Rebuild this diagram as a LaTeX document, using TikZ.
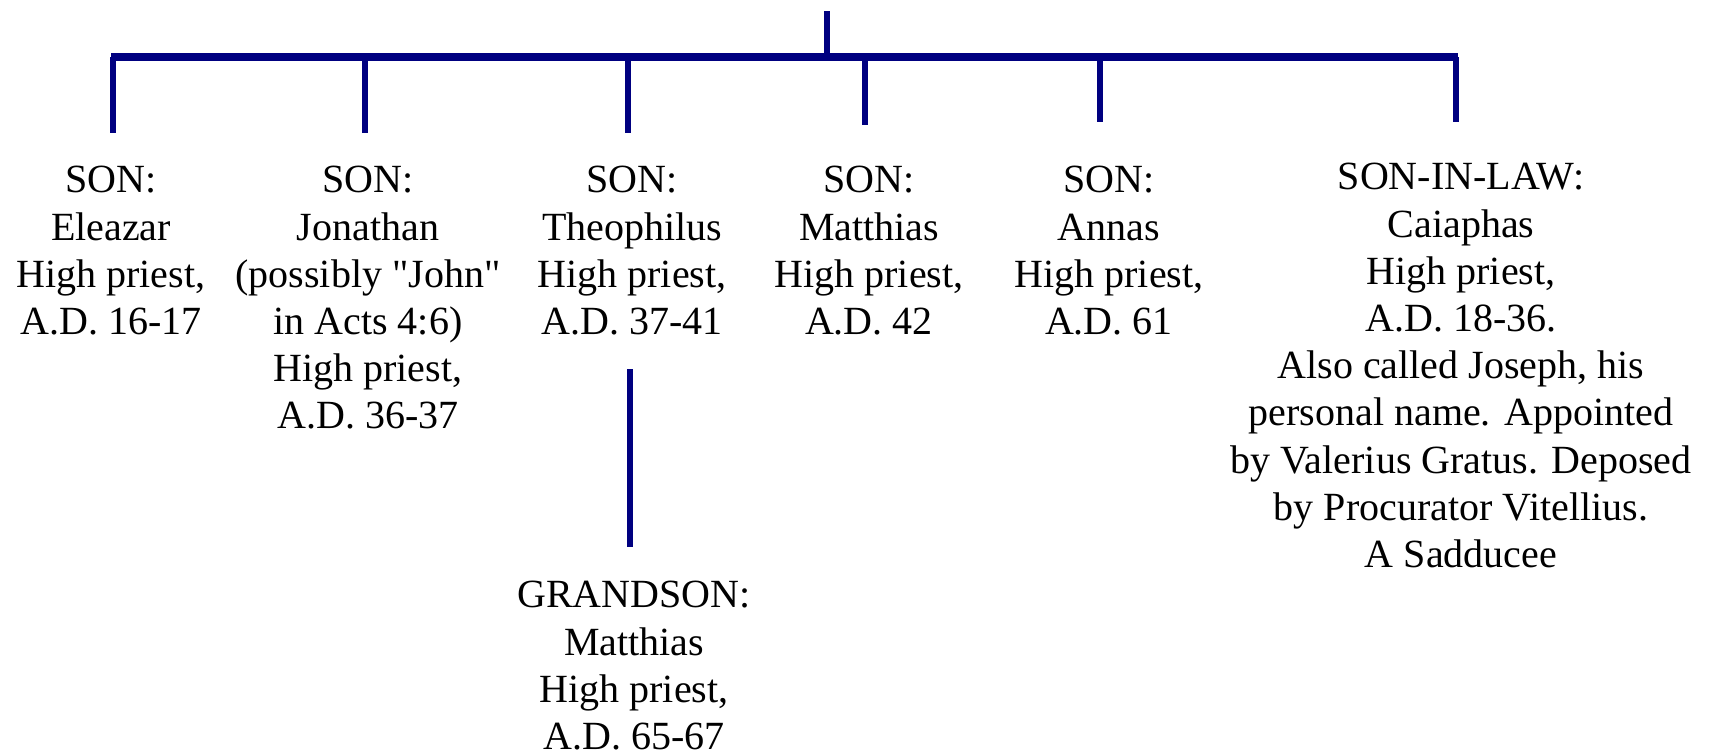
\documentclass[tikz,border=0pt]{standalone}
\usepackage{fontspec}
\setmainfont{Liberation Serif}[Ligatures=TeXOff]
\definecolor{linecolor}{RGB}{0,0,128}

\begin{document}
\begin{tikzpicture}[x=0.5pt, y=-0.5pt,
                    person/.style={anchor=north, align=center, inner sep=0pt,
                    font=\fontsize{20}{23.6}\selectfont},
                    bar/.style={draw=linecolor, line width=4pt},
                    drop/.style={draw=linecolor, line width=2.9pt}]
    \useasboundingbox (0,0) rectangle (1710,755);
    \coordinate (top) at (827,11);
    \coordinate (fork) at (827,57);
    \coordinate (left) at (111,57);
    \coordinate (right) at (1458,57);
    \coordinate (d1) at (113,133);
    \coordinate (d2) at (365,133);
    \coordinate (d3) at (628,133);
    \coordinate (d4) at (865,125);
    \coordinate (d5) at (1100,122);
    \coordinate (d6) at (1456,122);
    \coordinate (gtop) at (630,369);
    \coordinate (gbot) at (630,547);

    \node [person] (eleazar) at (111,166) {SON:\\Eleazar\\High priest,\\A.D. 16-17};
    \node [person] (jonathan) at (368,166) {SON:\\Jonathan\\(possibly "John"\\in Acts 4:6)\\High priest,\\A.D. 36-37};
    \node [person] (theophilus) at (632,166) {SON:\\Theophilus\\High priest,\\A.D. 37-41};
    \node [person] (matthias) at (869,166) {SON:\\Matthias\\High priest,\\A.D. 42};
    \node [person] (annas) at (1109,166) {SON:\\Annas\\High priest,\\A.D. 61};
    \node [person] (caiaphas) at (1461,163) {SON-IN-LAW:\\Caiaphas\\High priest,\\A.D. 18-36.\\Also called Joseph, his\\personal name. Appointed\\by Valerius Gratus. Deposed\\by Procurator Vitellius.\\A Sadducee};
    \node [person] (grandson) at (634,581) {GRANDSON:\\Matthias\\High priest,\\A.D. 65-67};

    \draw [drop] (top) -- (fork);
    \draw [bar] (left) -- (right);
    \draw [drop] (d1 |- fork) -- (d1);
    \draw [drop] (d2 |- fork) -- (d2);
    \draw [drop] (d3 |- fork) -- (d3);
    \draw [drop] (d4 |- fork) -- (d4);
    \draw [drop] (d5 |- fork) -- (d5);
    \draw [drop] (d6 |- fork) -- (d6);
    \draw [drop] (gtop) -- (gbot);
\end{tikzpicture}
\end{document}
